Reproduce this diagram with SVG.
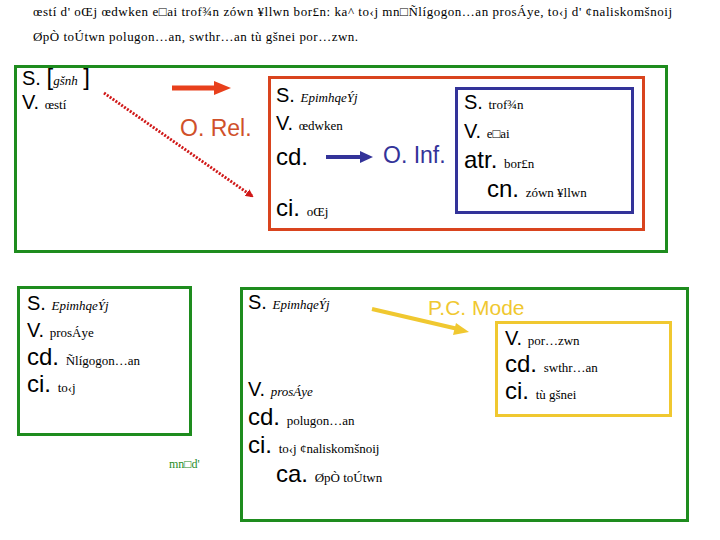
<svg xmlns="http://www.w3.org/2000/svg" width="720" height="540" viewBox="0 0 720 540">
<style>
.g{font-family:"Liberation Serif","DejaVu Serif",serif;font-size:13px;fill:#000}
.gi{font-family:"Liberation Serif","DejaVu Serif",serif;font-size:13px;font-style:italic;fill:#000}
.l{font-family:"Liberation Sans",Arial,sans-serif;font-size:20px;fill:#000}
.L{font-family:"Liberation Sans",Arial,sans-serif;font-size:24px;fill:#000}
.box{fill:none;stroke-width:3}
.green{stroke:#1E8C1E}
.red{stroke:#D9441E}
.blue{stroke:#333399}
.yellow{stroke:#F0C830}
</style>
<defs>
<marker id="hr" markerWidth="8" markerHeight="8" refX="6" refY="4" orient="auto" markerUnits="userSpaceOnUse"><path d="M0,0 L8,4 L0,8 z" fill="#D01818"/></marker>
</defs>
<rect width="720" height="540" fill="#fff"/>
<g id="title">
<text class="g" x="33" y="16" textLength="639" lengthAdjust="spacing">œstí d' oŒj œdwken e□ai trof¾n zówn ¥llwn bor£n: ka^ to‹j mn□Ñlígogon…an prosÁye, to‹j d' ¢naliskomšnoij</text>
<text class="g" x="33" y="41" textLength="325" lengthAdjust="spacing">ØpÒ toÚtwn polugon…an, swthr…an tù gšnei por…zwn.</text>
</g>
<g id="main-clause">
<rect class="box green" x="15.5" y="66.5" width="651" height="185"/>
<text class="l" x="22" y="85">S. <tspan font-size="24">[</tspan><tspan class="gi" font-size="12">gšnh</tspan> <tspan font-size="24">]</tspan></text>
<text class="l" x="22" y="109">V. <tspan class="g" font-size="12">œstí</tspan></text>
<text x="180" y="136" font-family="Liberation Sans,Arial,sans-serif" font-size="23" fill="#D0502A">O. Rel.</text>
</g>
<g id="rel-clause">
<rect class="box red" x="269.5" y="77.5" width="374" height="152"/>
<text class="l" x="276" y="102">S. <tspan class="gi">EpimhqeÝj</tspan></text>
<text class="l" x="276" y="130">V. <tspan class="g">œdwken</tspan></text>
<text class="L" x="276" y="165">cd.</text>
<text x="383" y="163" font-family="Liberation Sans,Arial,sans-serif" font-size="23" fill="#333399">O. Inf.</text>
<text class="L" x="276" y="216">ci. <tspan class="g">oŒj</tspan></text>
</g>
<g id="inf-clause">
<rect class="box blue" x="456.5" y="88.5" width="176" height="124"/>
<text class="l" x="464" y="109">S. <tspan class="g">trof¾n</tspan></text>
<text class="l" x="464" y="138">V. <tspan class="g">e□ai</tspan></text>
<text class="L" x="464" y="168">atr. <tspan class="g">bor£n</tspan></text>
<text class="L" x="487" y="197">cn. <tspan class="g">zówn ¥llwn</tspan></text>
</g>
<g id="clause-2">
<rect class="box green" x="18.5" y="287.5" width="172" height="147"/>
<text class="l" x="27" y="310">S. <tspan class="gi">EpimhqeÝj</tspan></text>
<text class="l" x="27" y="337">V. <tspan class="g">prosÁye</tspan></text>
<text class="L" x="27" y="365">cd. <tspan class="g">Ñlígogon…an</tspan></text>
<text class="L" x="27" y="392">ci. <tspan class="g">to‹j</tspan></text>
</g>
<g id="connector-text">
<text x="169" y="468" font-family="Liberation Serif,serif" font-size="12" fill="#1E8C1E">mn□d'</text>
</g>
<g id="clause-3">
<rect class="box green" x="241.5" y="288.5" width="446" height="232"/>
<text class="l" x="248" y="309">S. <tspan class="gi">EpimhqeÝj</tspan></text>
<text x="428" y="315" font-family="Liberation Sans,Arial,sans-serif" font-size="21" fill="#F0C830">P.C. Mode</text>
<text class="l" x="248" y="396">V. <tspan class="gi">prosÁye</tspan></text>
<text class="L" x="248" y="425">cd. <tspan class="g">polugon…an</tspan></text>
<text class="L" x="248" y="453">ci. <tspan class="g">to‹j ¢naliskomšnoij</tspan></text>
<text class="L" x="276" y="482">ca. <tspan class="g">ØpÒ toÚtwn</tspan></text>
</g>
<g id="pc-mode">
<rect class="box yellow" x="496.5" y="322.5" width="174" height="93"/>
<text class="l" x="505" y="345">V. <tspan class="g">por…zwn</tspan></text>
<text class="L" x="505" y="372">cd. <tspan class="g">swthr…an</tspan></text>
<text class="L" x="505" y="399">ci. <tspan class="g">tù gšnei</tspan></text>
</g>
<g id="connectors">
<line x1="172" y1="88" x2="216" y2="88" stroke="#E8401C" stroke-width="5"/>
<polygon points="214,81 231,88 214,95" fill="#E8401C"/>
<line x1="104" y1="93" x2="252" y2="196" stroke="#D01818" stroke-width="3" stroke-dasharray="2,1.5" marker-end="url(#hr)"/>
<line x1="326" y1="157" x2="362" y2="157" stroke="#333399" stroke-width="4"/>
<polygon points="360,151 373,157 360,163" fill="#333399"/>
<line x1="372" y1="309" x2="458" y2="329" stroke="#F0C830" stroke-width="4"/>
<polygon points="456,323 469,332 453,335" fill="#F0C830"/>
</g>
</svg>
